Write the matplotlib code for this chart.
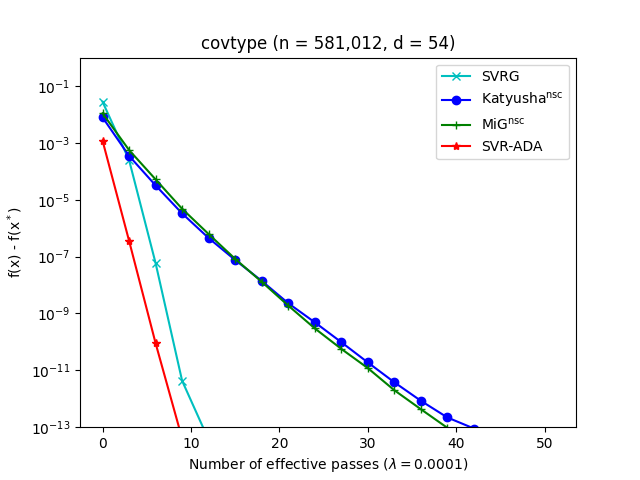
import matplotlib
matplotlib.use("Agg")
import matplotlib.pyplot as plt

passes = [0, 3, 6, 9, 12, 15, 18, 21, 24, 27, 30, 33, 36, 39, 42, 45, 48, 51]

svrg = [2.8e-2, 2.5e-4, 5.9e-8, 4.3e-12, 3.6e-14, 1.0e-15, 2.0e-16, 1.5e-16, 1.2e-16,
        1.1e-16, 1.0e-16, 1.0e-16, 1.0e-16, 1.0e-16, 1.0e-16, 1.0e-16, 1.0e-16, 1.0e-16]
katyusha = [7.9e-3, 3.5e-4, 3.2e-5, 3.3e-6, 4.5e-7, 7.6e-8, 1.4e-8, 2.3e-9, 4.9e-10,
            9.8e-11, 1.9e-11, 3.8e-12, 8.5e-13, 2.2e-13, 9.0e-14, 4.0e-14, 1.8e-14, 8.0e-15]
mig = [1.1e-2, 5.6e-4, 5.2e-5, 4.8e-6, 6.2e-7, 8.3e-8, 1.3e-8, 1.9e-9, 3.0e-10,
       5.7e-11, 1.2e-11, 2.0e-12, 4.3e-13, 9.5e-14, 2.2e-14, 5.0e-15, 1.2e-15, 3.0e-16]
svr_ada = [1.2e-3, 3.6e-7, 9.0e-11, 4.0e-14, 1.0e-16, 1.0e-16, 1.0e-16, 1.0e-16, 1.0e-16,
           1.0e-16, 1.0e-16, 1.0e-16, 1.0e-16, 1.0e-16, 1.0e-16, 1.0e-16, 1.0e-16, 1.0e-16]

fig, ax = plt.subplots(figsize=(6.4, 4.8), dpi=100)
ax.semilogy(passes, svrg, 'c-x', label='SVRG')
ax.semilogy(passes, katyusha, 'b-o', label=r'Katyusha$^{\mathrm{nsc}}$')
ax.semilogy(passes, mig, 'g-+', label=r'MiG$^{\mathrm{nsc}}$')
ax.semilogy(passes, svr_ada, 'r-*', label='SVR-ADA')
ax.set_ylim(1e-13, 1e0)
ax.set_xlabel(r'Number of effective passes ($\lambda = 0.0001$)')
ax.set_ylabel(r'f(x) - f(x$^*$)')
ax.set_title('covtype (n = 581,012, d = 54)')
ax.legend(loc='upper right')
fig.savefig('out.png', dpi=100)
